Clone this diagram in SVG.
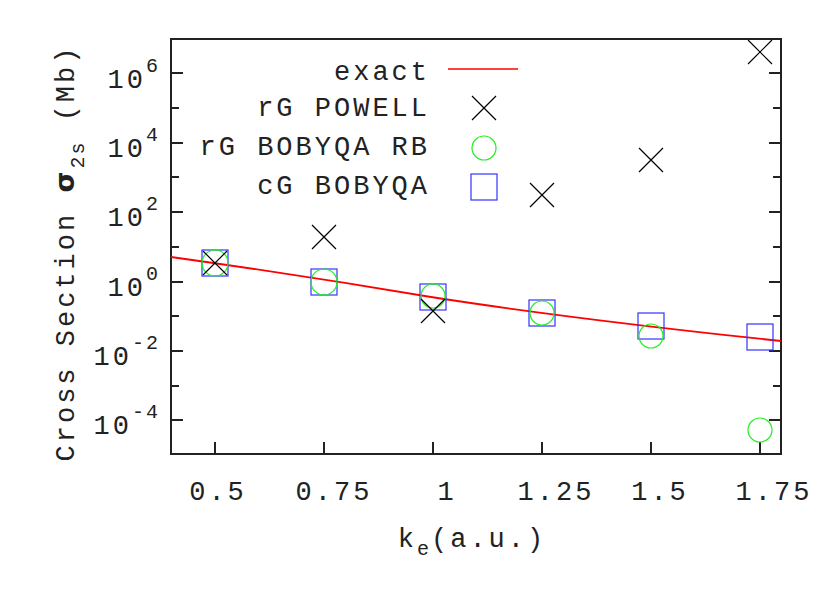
<svg xmlns="http://www.w3.org/2000/svg" width="830" height="593" viewBox="0 0 830 593" font-family="'Liberation Mono','Courier New','DejaVu Sans Mono',monospace">
<style>
text{font-family:"Liberation Mono","Courier New",monospace;font-size:27px;letter-spacing:3px;fill:#222}
.sup{font-size:20px;letter-spacing:2px}
.ax{stroke:#222;stroke-width:2;fill:none}
.x{stroke:#000;stroke-width:1.2}
.c{stroke:#2e2;stroke-width:1.2;fill:none}
.s{stroke:#33f;stroke-width:1.2;fill:none}
</style>
<rect width="830" height="593" fill="#fff"/>
<g id="axes">
<rect class="ax" x="171" y="39" width="610" height="415"/>
<path class="ax" d="M171,73h12M171,108h8M171,143h12M171,177h8M171,212h12M171,247h8M171,282h12M171,316h8M171,351h12M171,386h8M171,420h12
M781,73h-12M781,108h-8M781,143h-12M781,177h-8M781,212h-12M781,247h-8M781,282h-12M781,316h-8M781,351h-12M781,386h-8M781,420h-12
M215,454v-12M324,454v-12M433,454v-12M542,454v-12M651,454v-12M760,454v-12"/>
<g text-anchor="end">
<text x="160" y="88">10<tspan class="sup" dy="-16">6</tspan></text>
<text x="160" y="157">10<tspan class="sup" dy="-16">4</tspan></text>
<text x="160" y="226">10<tspan class="sup" dy="-16">2</tspan></text>
<text x="160" y="296">10<tspan class="sup" dy="-16">0</tspan></text>
<text x="160" y="365">10<tspan class="sup" dy="-16">-2</tspan></text>
<text x="160" y="434">10<tspan class="sup" dy="-16">-4</tspan></text>
</g>
<g text-anchor="middle">
<text x="218" y="500">0.5</text><text x="334" y="500">0.75</text><text x="447" y="500">1</text>
<text x="556" y="500">1.25</text><text x="660" y="500">1.5</text><text x="774" y="500">1.75</text>
<text x="472" y="547">k<tspan class="sup" dy="8">e</tspan><tspan dy="-8">(a.u.)</tspan></text>
<text transform="translate(74,253) rotate(-90)">Cross Section <tspan font-family="DejaVu Sans" font-weight="bold">σ</tspan><tspan class="sup" dy="10">2s</tspan><tspan dy="-10"> (Mb)</tspan></text>
</g>
</g>
<g id="legend">
<g text-anchor="end">
<text x="430" y="80">exact</text><text x="430" y="116">rG POWELL</text><text x="430" y="155">rG BOBYQA RB</text><text x="430" y="194">cG BOBYQA</text>
</g>
<line x1="448" y1="69" x2="518" y2="69" stroke="#f00" stroke-width="1.5"/>
<path class="x" d="M472,96l24,24M496,96l-24,24"/>
<circle class="c" cx="484" cy="148" r="12"/>
<rect class="s" x="471" y="174" width="26" height="26"/>
</g>
<g id="exact">
<path d="M171,257 C300,275 431,297 431,297 C540,314 649,327 781,341" stroke="#f00" stroke-width="1.8" fill="none"/>
</g>
<g id="cG">
<rect class="s" x="202" y="250" width="26" height="26"/>
<rect class="s" x="311" y="269" width="26" height="26"/>
<rect class="s" x="420" y="284" width="26" height="26"/>
<rect class="s" x="529" y="300" width="26" height="26"/>
<rect class="s" x="638" y="313" width="26" height="26"/>
<rect class="s" x="747" y="324" width="26" height="26"/>
</g>
<g id="rGB">
<circle class="c" cx="215" cy="263" r="13"/>
<circle class="c" cx="324" cy="282" r="13"/>
<circle class="c" cx="433" cy="296" r="12"/>
<circle class="c" cx="542" cy="313" r="12"/>
<circle class="c" cx="651" cy="336" r="12"/>
<circle class="c" cx="760" cy="430" r="12"/>
</g>
<g id="rGP">
<path class="x" d="M203,251l24,24M227,251l-24,24
M312,225l24,24M336,225l-24,24
M421,299l24,24M445,299l-24,24
M530,183l24,24M554,183l-24,24
M639,148l24,24M663,148l-24,24
M748,40l24,24M772,40l-24,24"/>
</g>
</svg>
